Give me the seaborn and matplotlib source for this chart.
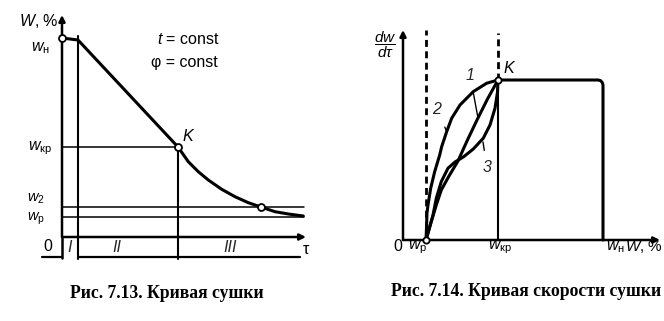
import matplotlib
matplotlib.use('Agg')
import matplotlib.pyplot as plt
import seaborn as sns
import pandas as pd

sns.set_theme(style='white')
plt.rcParams['font.family'] = ['Liberation Sans', 'DejaVu Sans']
plt.rcParams['mathtext.fontset'] = 'custom'
plt.rcParams['mathtext.rm'] = 'Liberation Sans'
plt.rcParams['mathtext.it'] = 'Liberation Sans:italic'
plt.rcParams['mathtext.bf'] = 'Liberation Sans:bold'

# ---------------- Fig. 7.13: drying curve W(tau) ----------------
tau_curve = [0.0, 1.6, 11.6, 12.63, 13.63, 14.63, 15.97, 17.3, 18.63, 19.9, 21.3, 22.63, 24.13]
w_curve = [39.8, 39.4, 18.0, 15.06, 13.06, 11.4, 9.54, 8.06, 6.86, 6.0, 5.06, 4.6, 4.2]
w_n, w_kr, w_2, w_p_left = 39.8, 18.0, 6.0, 4.0
tau_1, tau_k, tau_end = 1.6, 11.6, 24.2
circle_tau = [0.0, 11.6, 19.9]
circle_w = [39.8, 18.0, 6.0]
period_labels = ['I', 'II', 'III']

# ---------------- Fig. 7.14: drying rate curves ----------------
wp, wkr, wn = 4.6, 19.0, 40.0
n_rate = 8.0
c1_w = [4.6, 5.66, 6.66, 7.66, 9.2, 11.0, 12.8, 14.8, 16.9, 19.0]
c1_r = [0.0, 0.92, 1.75, 2.5, 3.2, 3.95, 4.95, 6.0, 7.05, 8.0]
c2_w = [4.6, 4.7, 4.8, 5.0, 5.54, 6.34, 7.34, 7.74, 8.74, 9.74, 11.4, 14.06, 16.74, 19.0]
c2_r = [0.0, 0.6, 1.35, 1.75, 2.59, 3.42, 4.25, 4.67, 5.42, 6.09, 6.75, 7.42, 7.84, 8.0]
c3_w = [4.6, 5.0, 6.0, 6.66, 7.66, 9.0, 10.4, 12.06, 14.06, 16.06, 17.4, 18.4, 18.9, 19.0]
c3_r = [0.0, 0.35, 1.25, 2.09, 2.92, 3.59, 3.9, 4.15, 4.55, 5.09, 5.75, 6.59, 7.4, 8.0]
plateau_w = [19.0, 39.0, 39.5, 39.85, 40.0, 40.0]
plateau_r = [8.0, 8.0, 7.97, 7.88, 7.75, 0.0]

W, H = 664, 321
fig = plt.figure(figsize=(W / 100, H / 100), dpi=100)
fig.patch.set_facecolor('white')

K = 'black'
LW_MAIN = 2.2
LW_THIN = 1.1
LW_AX = 1.8


def arrow(ax, start, end, lw=LW_AX):
    ax.annotate('', xy=end, xytext=start,
                arrowprops=dict(arrowstyle='-|>', lw=lw, color=K,
                                mutation_scale=9, shrinkA=0, shrinkB=0))


def line(ax, xs, ys, lw=LW_THIN, ls='-'):
    d = pd.DataFrame({'x': xs, 'y': ys})
    sns.lineplot(data=d, x='x', y='y', ax=ax, sort=False, estimator=None,
                 color=K, lw=lw, ls=ls, solid_joinstyle='round', solid_capstyle='round')


# ---- left axes: pixel x = 62 + 10*tau, pixel y = 237 - 5*W
axL = fig.add_axes([0, 0, 330 / W, 1])
axL.set_xlim(-6.2, 26.8)
axL.set_ylim((237 - 321) / 5, 237 / 5)
axL.axis('off')

line(axL, tau_curve, w_curve, lw=LW_MAIN)
# horizontal levels
line(axL, [0, tau_k], [w_kr, w_kr])
line(axL, [0, tau_end], [w_2, w_2])
line(axL, [0, tau_end], [w_p_left, w_p_left])
# verticals
line(axL, [tau_1, tau_1], [40.2, -4.4], lw=1.5)
line(axL, [tau_k, tau_k], [w_kr, -4.4], lw=1.5)
line(axL, [0, 0], [-4.2, 0], lw=LW_AX)
# period scale
line(axL, [tau_1, 23.8], [-4.0, -4.0], lw=1.6)
line(axL, [-2.0, 0], [-4.0, -4.0], lw=1.6)
arrow(axL, (0, 0), (0, 44.4))
arrow(axL, (0, 0), (24.4, 0))
axL.plot(circle_tau, circle_w, 'o', ms=5, mfc='white', mec=K, mew=1.3, zorder=5)

it = dict(fontsize=11.5, color=K, ha='center', va='center')
its = dict(fontsize=10.5, color=K, ha='center', va='center')
axL.text(-2.3, 43.2, r'$W$, %', **it)
axL.text(-2.2, 37.8, r'$w_{\mathrm{н}}$', **it)
axL.text(-2.2, 17.8, r'$w_{\mathrm{кр}}$', **it)
axL.text(-2.6, 7.6, r'$w_2$', **its)
axL.text(-2.6, 3.7, r'$w_{\mathrm{р}}$', **its)
axL.text(-1.4, -1.8, r'$0$', **it)
axL.text(12.6, 39.6, r'$t$ = const', **it)
axL.text(12.2, 34.8, 'φ = const', **it)
axL.text(12.7, 20.2, r'$K$', **it)
for lab, xpos in zip(period_labels, [0.8, 5.5, 16.8]):
    axL.text(xpos, -2.2, lab, fontstyle='italic', fontsize=11.5, ha='center', va='center')
axL.text(24.4, -2.4, 'τ', **it)

# ---- right axes: pixel x = 403 + 5*w, pixel y = 240 - 20*rate
axR = fig.add_axes([330 / W, 0, 1 - 330 / W, 1])
axR.set_xlim((330 - 403) / 5, (664 - 403) / 5)
axR.set_ylim((240 - 321) / 20, 240 / 20)
axR.axis('off')

line(axR, c2_w, c2_r, lw=LW_MAIN)
line(axR, c1_w, c1_r, lw=LW_MAIN)
line(axR, c3_w, c3_r, lw=LW_MAIN)
line(axR, plateau_w, plateau_r, lw=LW_MAIN)
line(axR, [wkr, wkr], [0, n_rate], lw=1.5)
line(axR, [wp, wp], [0, 10.5], lw=2.0, ls=(0, (2.5, 1.6)))
line(axR, [wkr, wkr], [n_rate, 10.35], lw=2.0, ls=(0, (2.5, 1.6)))
arrow(axR, (0, 0), (0, 10.5))
arrow(axR, (0, 0), (51.4, 0))
axR.plot([wkr], [n_rate], 'o', ms=4.5, mfc='white', mec=K, mew=1.3, zorder=5)
axR.plot([wp], [0], 'o', ms=4.5, mfc='white', mec=K, mew=1.3, zorder=5)

axR.text(-3.6, 9.75, r'$\dfrac{dw}{d\tau}$', fontsize=11, color=K, ha='center', va='center')
axR.text(21.4, 8.6, r'$K$', **it)
axR.text(-1.0, -0.3, r'$0$', **it)
axR.text(3.0, -0.35, r'$w_{\mathrm{р}}$', **it)
axR.text(19.4, -0.35, r'$w_{\mathrm{кр}}$', **it)
axR.text(42.4, -0.35, r'$w_{\mathrm{н}}$', **it)
axR.text(52.0, -0.35, r'$W$, %', fontsize=11, color=K, ha='right', va='center')
for lab, tpos, ppos in [('1', (13.4, 8.25), (15.0, 6.1)),
                        ('2', (6.8, 6.5), (8.8, 5.4)),
                        ('3', (16.8, 3.6), (16.0, 4.9))]:
    axR.annotate(lab, xy=ppos, xytext=tpos, fontsize=11.5, fontstyle='italic',
                 ha='center', va='center',
                 arrowprops=dict(arrowstyle='-', lw=1.0, color=K, shrinkA=5, shrinkB=0))

cap = dict(fontfamily='Liberation Serif', fontweight='bold', fontsize=12.7,
           ha='center', va='center', color=K)
fig.text(167 / W, 1 - 293 / H, 'Рис. 7.13. Кривая сушки', **cap)
fig.text(526 / W, 1 - 291 / H, 'Рис. 7.14. Кривая скорости сушки', **cap)

fig.savefig('out.png', dpi=100, facecolor='white')
